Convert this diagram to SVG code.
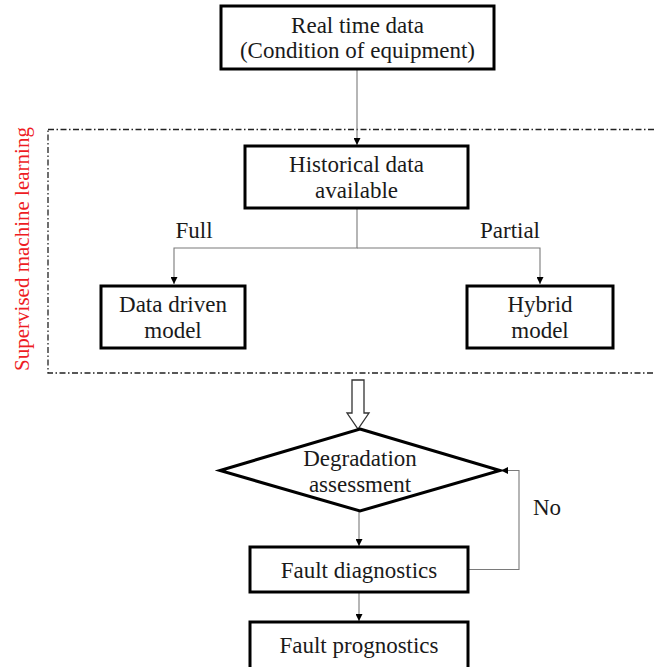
<svg xmlns="http://www.w3.org/2000/svg" width="655" height="667" viewBox="0 0 655 667" font-family="'Liberation Serif', 'Times New Roman', serif">
  <style>
    .box { fill: #ffffff; stroke: #000000; stroke-width: 3; }
    .lbl { font-family: 'Liberation Serif', 'Times New Roman', serif; font-size: 23px; fill: #1a1a1a; text-anchor: middle; }
    .edge { fill: none; stroke: #7a7a7a; stroke-width: 1.1; }
    .frame { fill: none; stroke: #222222; stroke-width: 1.3; stroke-dasharray: 6 2.5 1.5 2.5; }
    .side { font-family: 'Liberation Serif', 'Times New Roman', serif; font-size: 21px; fill: #ee1c24; text-anchor: middle; }
  </style>
  <defs>
    <marker id="tri" viewBox="0 0 10 10" refX="10" refY="5" markerWidth="7" markerHeight="7" markerUnits="userSpaceOnUse" orient="auto">
      <path d="M0,0 L10,5 L0,10 Z" fill="#000000"/>
    </marker>
  </defs>

  <rect width="655" height="667" fill="#ffffff"/>

  <!-- supervised learning frame (right side runs off the page) -->
  <g id="ml-frame">
    <rect class="frame" x="48" y="129.5" width="612" height="243.5"/>
    <text class="side" transform="translate(29,249) rotate(-90)">Supervised machine learning</text>
  </g>

  <g id="connectors">
    <path class="edge" d="M357,69 V145" marker-end="url(#tri)"/>
    <path class="edge" d="M357,208 V248 H174 V284" marker-end="url(#tri)"/>
    <path class="edge" d="M357,248 H540 V284" marker-end="url(#tri)"/>
    <path class="edge" d="M359,511 V546" marker-end="url(#tri)"/>
    <path class="edge" d="M359,592 V621" marker-end="url(#tri)"/>
    <path class="edge" d="M469,569.5 H519 V470.5 H501" marker-end="url(#tri)"/>
    <!-- hollow block arrow -->
    <path d="M352,380 H364 V413 H369 L358,429 L347,413 H352 Z" fill="#ffffff" stroke="#333333" stroke-width="1.3"/>
    <text class="lbl" x="194" y="238">Full</text>
    <text class="lbl" x="510" y="238">Partial</text>
    <text class="lbl" x="547" y="515">No</text>
  </g>

  <g id="real-time-data">
    <rect class="box" x="221" y="6" width="273" height="63"/>
    <text class="lbl" x="357.5" y="33">Real time data</text>
    <text class="lbl" x="357.5" y="58">(Condition of equipment)</text>
  </g>

  <g id="historical-data">
    <rect class="box" x="245" y="146" width="223" height="62"/>
    <text class="lbl" x="356.5" y="172">Historical data</text>
    <text class="lbl" x="356.5" y="198">available</text>
  </g>

  <g id="data-driven-model">
    <rect class="box" x="101" y="286" width="144" height="62"/>
    <text class="lbl" x="173" y="312">Data driven</text>
    <text class="lbl" x="173" y="338">model</text>
  </g>

  <g id="hybrid-model">
    <rect class="box" x="467" y="286" width="146" height="62"/>
    <text class="lbl" x="540" y="312">Hybrid</text>
    <text class="lbl" x="540" y="338">model</text>
  </g>

  <g id="degradation-assessment">
    <polygon class="box" points="360,429 500,470.5 360,511 220,470.5" stroke-linejoin="miter"/>
    <text class="lbl" x="360" y="466">Degradation</text>
    <text class="lbl" x="360" y="492">assessment</text>
  </g>

  <g id="fault-diagnostics">
    <rect class="box" x="250" y="547" width="218" height="45"/>
    <text class="lbl" x="359" y="578">Fault diagnostics</text>
  </g>

  <g id="fault-prognostics">
    <rect class="box" x="250" y="622" width="218" height="48"/>
    <text class="lbl" x="359" y="653">Fault prognostics</text>
  </g>
</svg>
